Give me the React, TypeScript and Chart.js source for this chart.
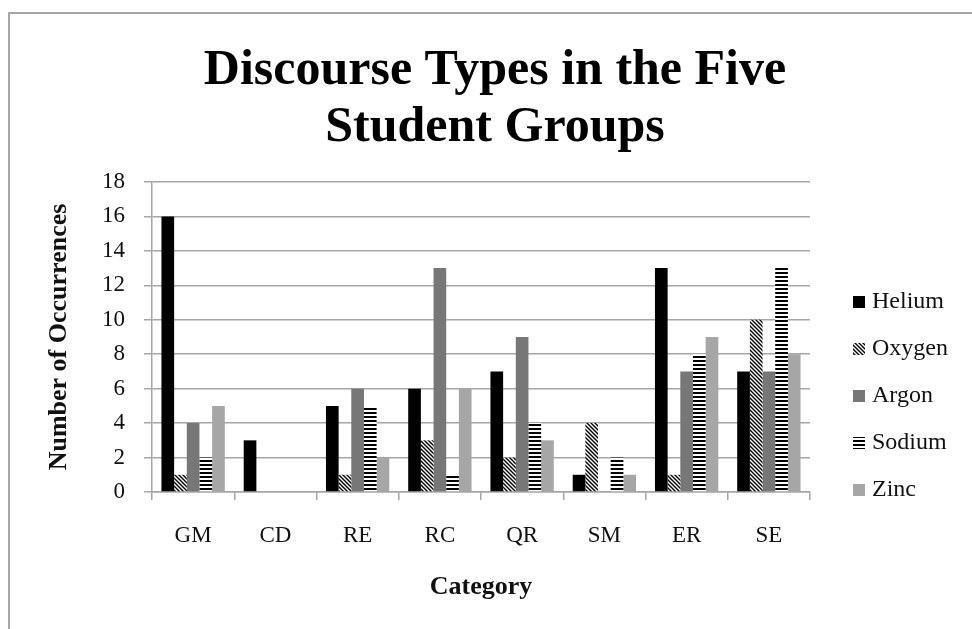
import { useEffect, useRef } from "react";
import { Chart, registerables } from "chart.js";

Chart.register(...registerables);

const categories = ["GM", "CD", "RE", "RC", "QR", "SM", "ER", "SE"];
const seriesNames = ["Helium", "Oxygen", "Argon", "Sodium", "Zinc"];
const helium = [16, 3, 5, 6, 7, 1, 13, 7];
const oxygen = [1, 0, 1, 3, 2, 4, 1, 10];
const argon = [4, 0, 6, 13, 9, 0, 7, 7];
const sodium = [2, 0, 5, 1, 4, 2, 8, 13];
const zinc = [5, 0, 2, 6, 3, 1, 9, 8];
const yMin = 0;
const yMax = 18;
const yStep = 2;
const titleLines = ["Discourse Types in the Five", "Student Groups"];
const yAxisTitle = "Number of Occurrences";
const xAxisTitle = "Category";

const SERIF = "'Liberation Serif', 'Times New Roman', serif";

function diagPattern(ctx: CanvasRenderingContext2D) {
  const c = document.createElement("canvas");
  c.width = 4;
  c.height = 4;
  const g = c.getContext("2d")!;
  g.fillStyle = "#fff";
  g.fillRect(0, 0, 4, 4);
  g.strokeStyle = "#000";
  g.lineWidth = 1.4;
  g.beginPath();
  g.moveTo(-1, -1);
  g.lineTo(5, 5);
  g.moveTo(-1, 3);
  g.lineTo(1, 5);
  g.moveTo(3, -1);
  g.lineTo(5, 1);
  g.stroke();
  return ctx.createPattern(c, "repeat")!;
}

function hPattern(ctx: CanvasRenderingContext2D) {
  const c = document.createElement("canvas");
  c.width = 4;
  c.height = 4;
  const g = c.getContext("2d")!;
  g.fillStyle = "#fff";
  g.fillRect(0, 0, 4, 4);
  g.fillStyle = "#000";
  g.fillRect(0, 0, 4, 2);
  return ctx.createPattern(c, "repeat")!;
}

const decorPlugin = {
  id: "decor",
  beforeDraw(chart: any) {
    const ctx = chart.ctx as CanvasRenderingContext2D;
    ctx.save();
    ctx.strokeStyle = "#a6a6a6";
    ctx.lineWidth = 2;
    ctx.beginPath();
    ctx.moveTo(9, 629);
    ctx.lineTo(9, 13);
    ctx.lineTo(972, 13);
    ctx.stroke();
    ctx.restore();
  },
  afterDraw(chart: any) {
    const ctx = chart.ctx as CanvasRenderingContext2D;
    ctx.save();
    // title
    ctx.fillStyle = "#000";
    ctx.font = `bold 50px ${SERIF}`;
    ctx.textAlign = "center";
    ctx.textBaseline = "alphabetic";
    ctx.fillText(titleLines[0], 495, 84);
    ctx.fillText(titleLines[1], 495, 141);
    // legend
    ctx.font = `24px ${SERIF}`;
    ctx.textAlign = "left";
    ctx.textBaseline = "middle";
    const startY = 302;
    const step = 47;
    chart.data.datasets.forEach((ds: any, i: number) => {
      const cy = startY + i * step;
      ctx.fillStyle = ds.backgroundColor;
      ctx.fillRect(853, cy - 6, 12, 12);
      ctx.fillStyle = "#111";
      ctx.fillText(ds.label, 872, cy);
    });
    ctx.restore();
  },
};

export default function App() {
  const ref = useRef<HTMLCanvasElement>(null);
  useEffect(() => {
    const canvas = ref.current!;
    const ctx = canvas.getContext("2d")!;
    const colors = ["#000000", diagPattern(ctx), "#777777", hPattern(ctx), "#a6a6a6"];
    const values = [helium, oxygen, argon, sodium, zinc];
    const chart = new Chart(canvas, {
      type: "bar",
      data: {
        labels: categories,
        datasets: seriesNames.map((name, i) => ({
          label: name,
          data: values[i],
          backgroundColor: colors[i] as any,
          borderWidth: 0,
          categoryPercentage: 0.77,
          barPercentage: 1.0,
        })),
      },
      options: {
        responsive: false,
        animation: false,
        devicePixelRatio: 1,
        layout: { padding: { top: 182, right: 162, bottom: 0, left: 0 } },
        plugins: {
          legend: { display: false },
          title: { display: false },
          tooltip: { enabled: false },
        },
        scales: {
          x: {
            grid: {
              display: true,
              drawOnChartArea: false,
              drawTicks: true,
              tickLength: 8,
              color: "#a6a6a6",
              lineWidth: 1.5,
              offset: true,
            },
            border: { color: "#a6a6a6", width: 1.5 },
            ticks: {
              font: { family: SERIF, size: 23 },
              color: "#111",
              padding: 22,
              maxRotation: 0,
            },
            title: {
              display: true,
              text: xAxisTitle,
              font: { family: SERIF, size: 26, weight: "bold" },
              color: "#111",
              padding: { top: 0, bottom: 26 },
            },
            afterFit(scale: any) {
              scale.height = 137;
            },
          },
          y: {
            min: yMin,
            max: yMax,
            ticks: {
              stepSize: yStep,
              font: { family: SERIF, size: 23 },
              color: "#111",
              padding: 19,
            },
            grid: {
              color: "#a6a6a6",
              lineWidth: 1.5,
              tickLength: 8,
              drawTicks: true,
            },
            border: { color: "#a6a6a6", width: 1.5 },
            title: {
              display: true,
              text: yAxisTitle,
              font: { family: SERIF, size: 26, weight: "bold" },
              color: "#111",
              padding: { top: 44, bottom: 0 },
            },
            afterFit(scale: any) {
              scale.width = 152;
            },
          },
        },
      },
      plugins: [decorPlugin],
    });
    return () => chart.destroy();
  }, []);
  return (
    <div style={{ position: "fixed", left: 0, top: 0, width: 972, height: 629, background: "#fff" }}>
      <canvas ref={ref} width={972} height={629} style={{ display: "block" }} />
    </div>
  );
}
